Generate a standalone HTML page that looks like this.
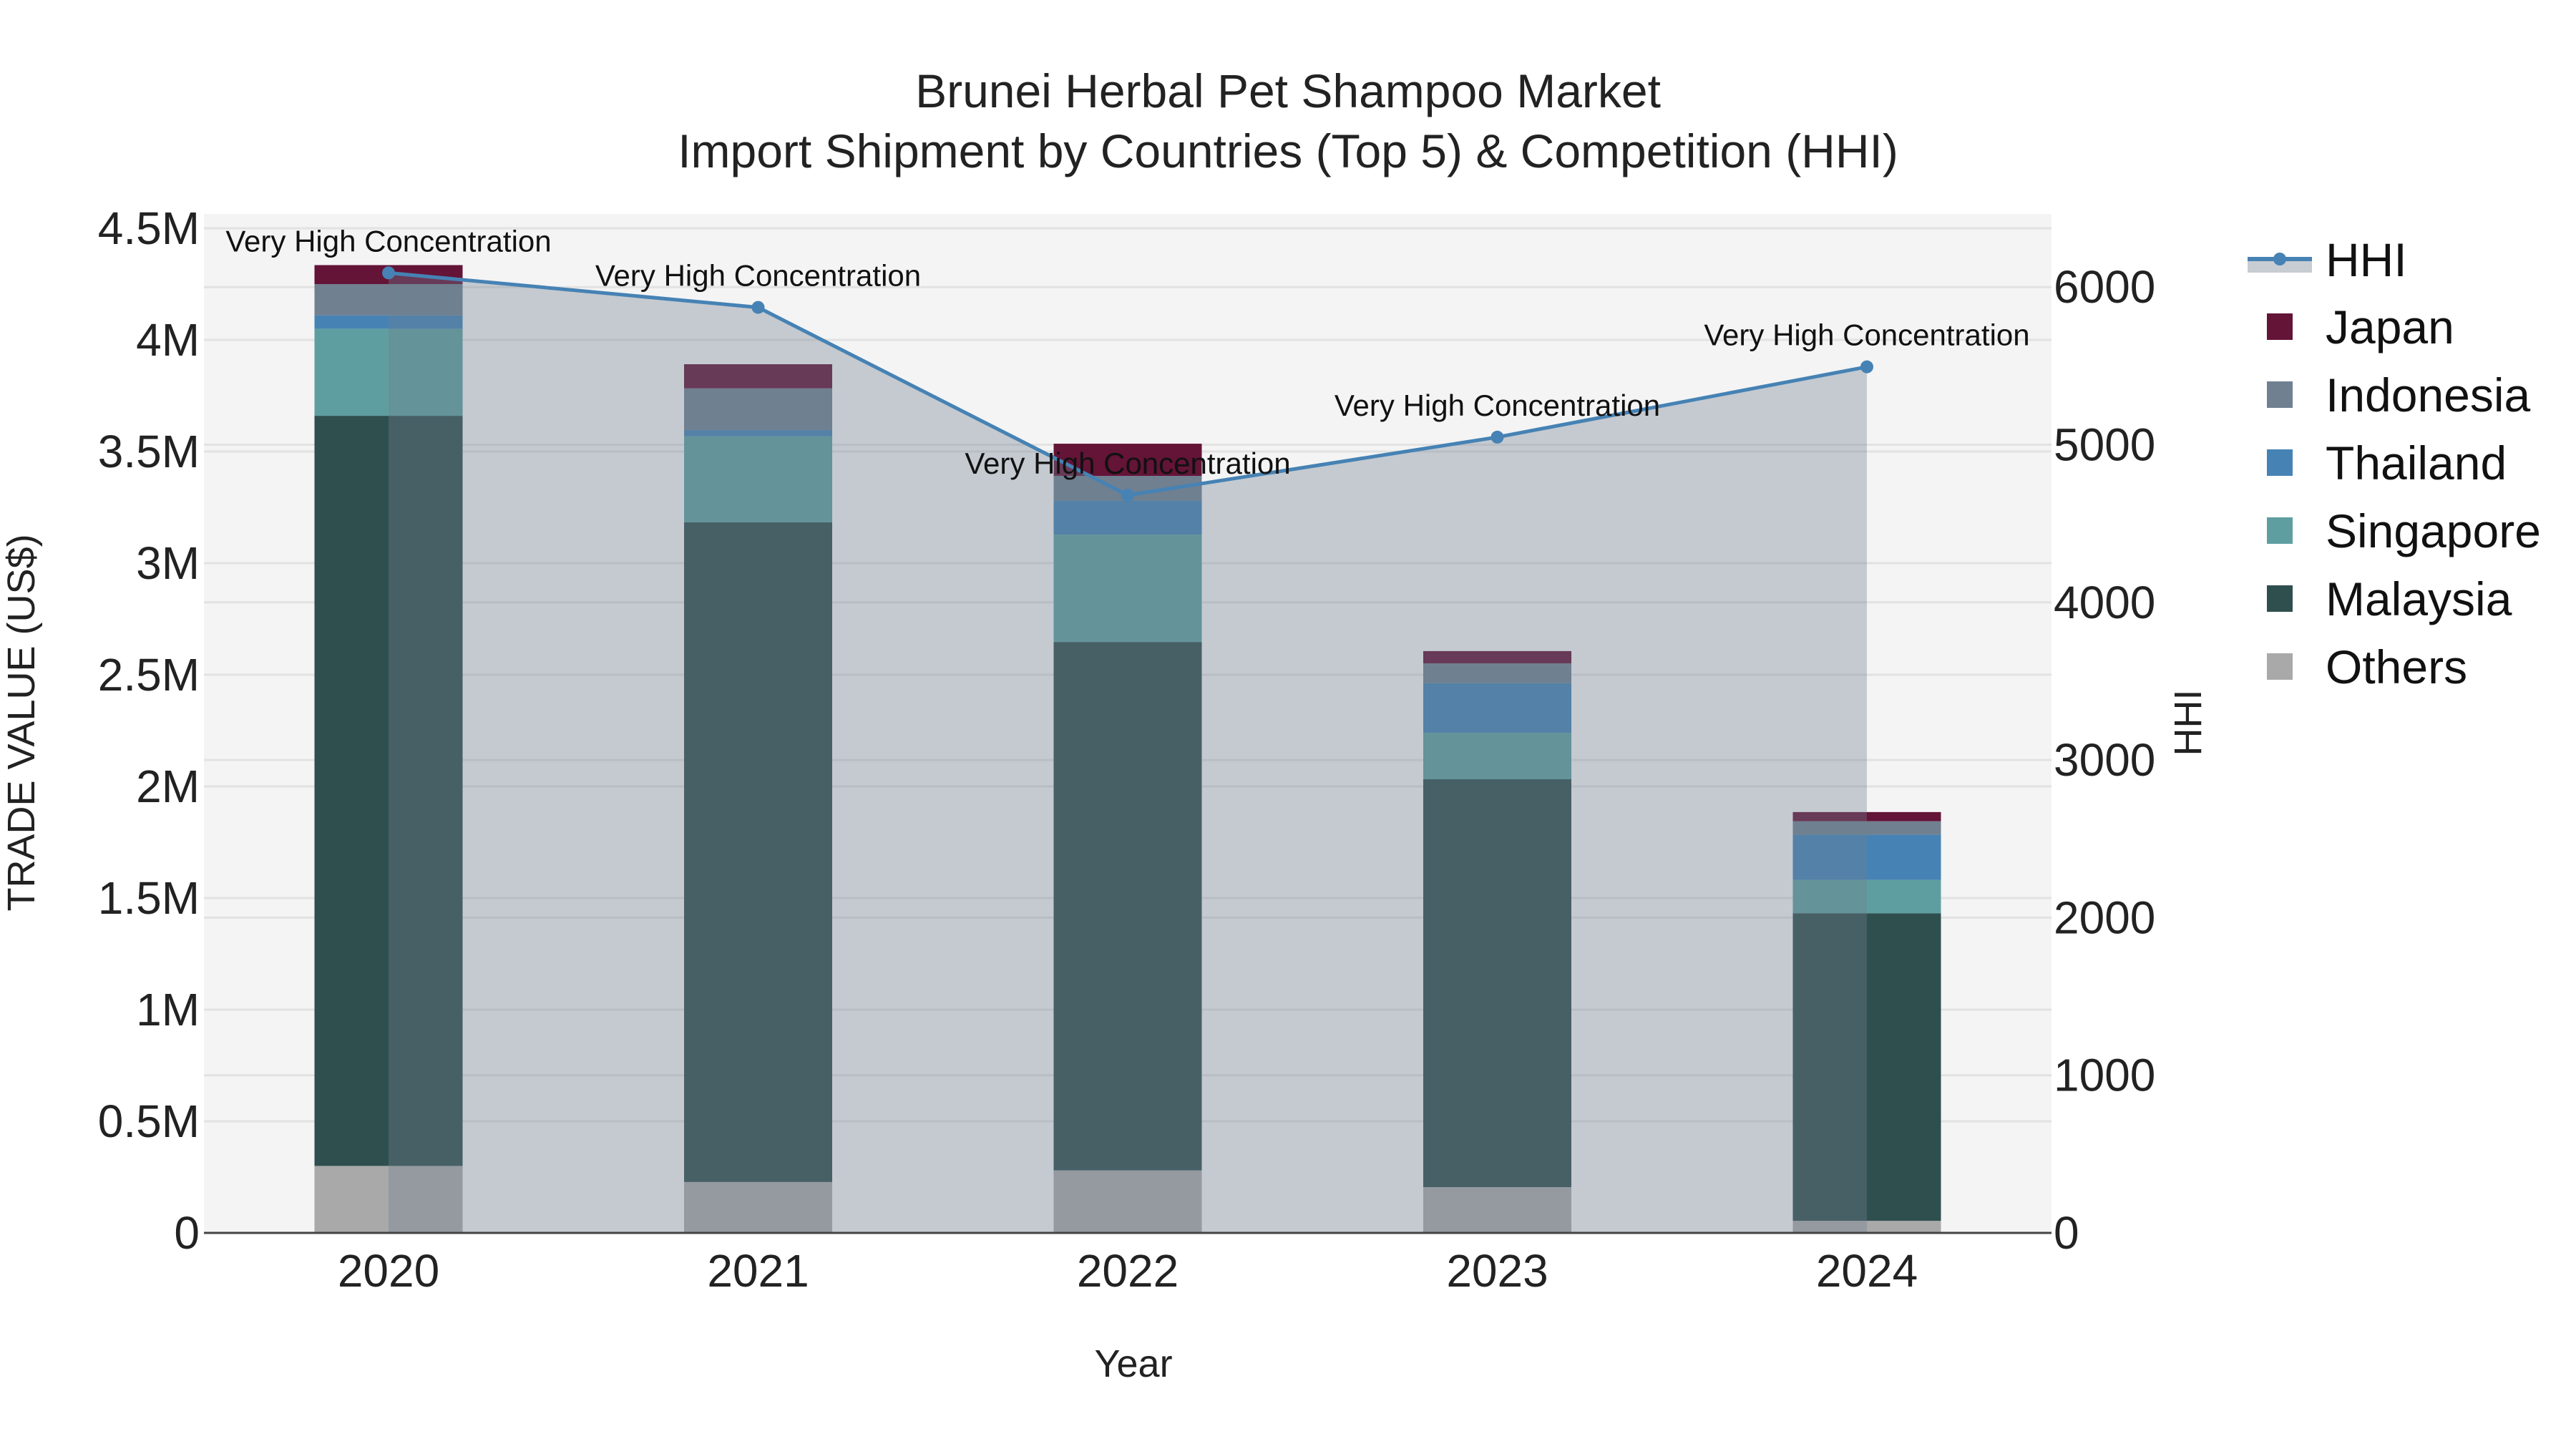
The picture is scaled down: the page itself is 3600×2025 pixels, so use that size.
<!DOCTYPE html>
<html><head><meta charset="utf-8"><style>
html,body{margin:0;padding:0;background:#fff;}
svg{display:block;font-family:"Liberation Sans",sans-serif;}
</style></head><body>
<svg id="chart" width="3600" height="2025" viewBox="0 0 3600 2025" xmlns="http://www.w3.org/2000/svg">
<rect x="0" y="0" width="3600" height="2025" fill="#fff"/>
<rect x="285" y="299" width="2582" height="1424" fill="#f4f4f4"/>
<g id="grid"></g>
<g id="bars"></g>
<g id="area"></g>
<g id="line"></g>
<g id="labels"></g>
<line x1="285" y1="1723" x2="2867" y2="1723" stroke="#444" stroke-width="3"/>
<g id="axes"></g>
<text x="1800" y="150" text-anchor="middle" font-size="66" fill="#222">Brunei Herbal Pet Shampoo Market</text>
<text x="1800" y="234" text-anchor="middle" font-size="66" fill="#222">Import Shipment by Countries (Top 5) &amp; Competition (HHI)</text>
<text x="1584" y="1924" text-anchor="middle" font-size="54" fill="#222">Year</text>
<text transform="translate(48,1010) rotate(-90)" text-anchor="middle" font-size="54" fill="#222">TRADE VALUE (US$)</text>
<text transform="translate(3076,1010) rotate(-90)" text-anchor="middle" font-size="54" fill="#222">HHI</text>
<g id="legend"></g>
</svg>
<script>
const years = ["2020","2021","2022","2023","2024"];
const countries = ["Others","Malaysia","Singapore","Thailand","Indonesia","Japan"];
const others    = [0.30, 0.228, 0.28, 0.205, 0.054];
const malaysia  = [3.36, 2.955, 2.367, 1.827, 1.378];
const singapore = [0.39, 0.385, 0.481, 0.208, 0.149];
const thailand  = [0.06, 0.028, 0.151, 0.222, 0.203];
const indonesia = [0.14, 0.187, 0.112, 0.089, 0.060];
const japan     = [0.085, 0.108, 0.144, 0.055, 0.041];
const hhi = [6090, 5871, 4680, 5048, 5494];
const hhiLabels = ["Very High Concentration","Very High Concentration","Very High Concentration","Very High Concentration","Very High Concentration"];
const yTicks = [0,0.5,1,1.5,2,2.5,3,3.5,4,4.5];
const yTickLabels = ["0","0.5M","1M","1.5M","2M","2.5M","3M","3.5M","4M","4.5M"];
const y2Ticks = [0,1000,2000,3000,4000,5000,6000];

const series = [others, malaysia, singapore, thailand, indonesia, japan];
const colors = ["#a9a9a9","#2f4f4f","#5f9ea0","#4682b4","#708090","#631437"];
const NS = "http://www.w3.org/2000/svg";
const X0 = 543, XSTEP = 516.5, Y0 = 1723, YPX = 312, Y2PX = 0.2203, BW = 207;
const xs = i => X0 + i * XSTEP;
const ys = v => Y0 - v * YPX;
const y2s = v => Y0 - v * Y2PX;
function mk(tag, attrs, parent, text){const e=document.createElementNS(NS,tag);for(const k in attrs)e.setAttribute(k,attrs[k]);if(text!==undefined)e.textContent=text;document.getElementById(parent).appendChild(e);return e;}

yTicks.forEach((t,i)=>{
  if(t>0){const g=mk("line",{x1:285,x2:2867,y1:ys(t),y2:ys(t),stroke:"#e2e2e2","stroke-width":3},"grid");
  
  }
  const l=mk("text",{x:279,y:ys(t)+22,"text-anchor":"end","font-size":64,fill:"#222"},"axes",yTickLabels[i]);
  
  
});
y2Ticks.forEach(t=>{
  if(t>0){const g=mk("line",{x1:285,x2:2867,y1:y2s(t),y2:y2s(t),stroke:"#e2e2e2","stroke-width":3},"grid");
  
  }
  const l=mk("text",{x:2870,y:y2s(t)+22,"font-size":64,fill:"#222"},"axes",String(t));
  
  
});
years.forEach((yr,i)=>{
  const l=mk("text",{x:xs(i),y:1798,"text-anchor":"middle","font-size":64,fill:"#222"},"axes",yr);
  
  
  let base=0;
  series.forEach((s,k)=>{
    const r=mk("rect",{x:xs(i)-BW/2,y:ys(base+s[i]),width:BW,height:s[i]*YPX,fill:colors[k]},"bars");
    
    
    base+=s[i];
  });
});
let pts=hhi.map((v,i)=>xs(i)+","+y2s(v)).join(" ");
const area=mk("polygon",{points:xs(0)+","+Y0+" "+pts+" "+xs(hhi.length-1)+","+Y0,fill:"rgba(112,128,144,0.36)"},"area");


const pl=mk("polyline",{points:pts,fill:"none",stroke:"#4682b4","stroke-width":5},"line");


hhi.forEach((v,i)=>{
  const c=mk("circle",{cx:xs(i),cy:y2s(v),r:9,fill:"#4682b4"},"line");
  
  
  const t=mk("text",{x:xs(i),y:y2s(v)-30,"text-anchor":"middle","font-size":42,fill:"#111"},"labels",hhiLabels[i]);
  
  
});
// legend
const lf=mk("rect",{x:3141,y:362,width:90,height:19,fill:"#c8ccd3"},"legend");


const ll=mk("line",{x1:3141,x2:3231,y1:362,y2:362,stroke:"#4682b4","stroke-width":6},"legend");


const lc=mk("circle",{cx:3186,cy:362,r:9,fill:"#4682b4"},"legend");


const lt=mk("text",{x:3250,y:386,"font-size":66,fill:"#111"},"legend","HHI");


const legOrder=[5,4,3,2,1,0];
legOrder.forEach((k,j)=>{
  const y=456+j*95;
  const s=mk("rect",{x:3168,y:y-18,width:36,height:37,fill:colors[k]},"legend");
  
  
  const t=mk("text",{x:3250,y:y+24,"font-size":66,fill:"#111"},"legend",countries[k]);
  
  
});
</script>
</body></html>
